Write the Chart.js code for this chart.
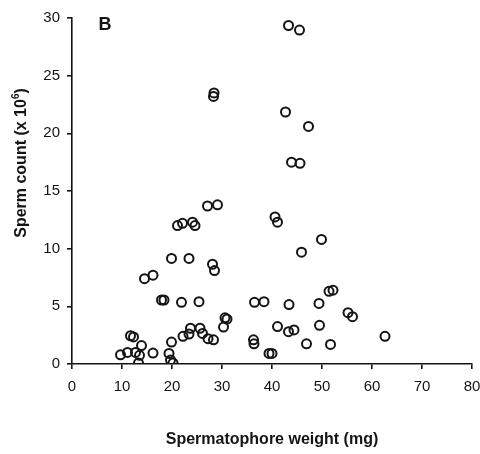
<!DOCTYPE html>
<html>
<head>
<meta charset="utf-8">
<script src="https://cdn.jsdelivr.net/npm/chart.js@4.4.1/dist/chart.umd.min.js"></script>
<style>
  html, body { margin: 0; padding: 0; background: #fff; }
</style>
</head>
<body>
<canvas id="chart" width="480" height="454"></canvas>
<script>
// values
const weightMg = [
  9.7, 11.1, 11.7, 12.3, 12.7, 13.3, 13.5, 13.9, 14.5, 16.2,
  16.2, 17.9, 18.4, 19.4, 19.7, 19.9, 19.9, 20.2, 21.1, 21.9,
  22.1, 22.2, 23.4, 23.4, 23.7, 24.1, 24.6, 25.4, 25.6, 26.1,
  27.1, 27.2, 28.1, 28.3, 28.3, 28.4, 28.5, 29.1, 30.3, 30.6,
  31.0, 36.3, 36.4, 36.5, 38.4, 39.4, 40.0, 40.6, 41.1, 41.1,
  42.7, 43.3, 43.3, 43.4, 43.9, 44.4, 45.5, 45.6, 45.9, 46.9,
  47.3, 49.4, 49.5, 49.9, 51.4, 51.7, 52.2, 55.2, 56.1, 62.6
];
const spermCount = [
  0.8, 1.0, 2.45, 2.35, 1.0, 0.08, 0.75, 1.6, 7.4, 7.7,
  0.95, 5.55, 5.55, 0.92, 0.35, 1.9, 9.15, 0.08, 12.0, 5.35,
  12.2, 2.4, 9.15, 2.6, 3.1, 12.3, 12.0, 5.4, 3.1, 2.65,
  13.7, 2.2, 8.65, 23.2, 2.1, 23.5, 8.1, 13.8, 3.2, 4.0,
  3.9, 2.1, 1.75, 5.35, 5.4, 0.92, 0.92, 12.75, 12.3, 3.25,
  21.85, 29.35, 2.8, 5.15, 17.5, 2.95, 28.95, 17.4, 9.7, 1.75,
  20.6, 5.25, 3.35, 10.8, 6.3, 1.7, 6.4, 4.45, 4.1, 2.4
];
const xTicks = [0, 10, 20, 30, 40, 50, 60, 70, 80];
const yTicks = [0, 5, 10, 15, 20, 25, 30];
const panelLabel = 'B';
const xTitle = 'Spermatophore weight (mg)';
const yTitleParts = ['Sperm count (x 10', '6', ')'];

const FONT = '"Liberation Sans", Arial, Helvetica, sans-serif';
const INK = '#141414';

// panel letter and the y title (it needs a superscript, so drawn by hand)
const annotate = {
  id: 'annotate',
  afterDraw(chart) {
    const { ctx, scales } = chart;
    ctx.save();
    ctx.fillStyle = INK;
    ctx.textBaseline = 'middle';
    ctx.textAlign = 'center';
    ctx.font = 'bold 18px ' + FONT;
    ctx.fillText(panelLabel, scales.x.getPixelForValue(6.6), scales.y.getPixelForValue(29.4));

    ctx.translate(22, 163);
    ctx.rotate(-Math.PI / 2);
    const big = 'bold 16px ' + FONT, small = 'bold 10px ' + FONT;
    ctx.font = big;
    const w0 = ctx.measureText(yTitleParts[0]).width;
    const w2 = ctx.measureText(yTitleParts[2]).width;
    ctx.font = small;
    const w1 = ctx.measureText(yTitleParts[1]).width;
    let x = -(w0 + w1 + w2) / 2;
    ctx.textAlign = 'left';
    ctx.font = big;
    ctx.fillText(yTitleParts[0], x, 0);
    x += w0;
    ctx.font = small;
    ctx.fillText(yTitleParts[1], x, -6);
    x += w1;
    ctx.font = big;
    ctx.fillText(yTitleParts[2], x, 0);
    ctx.restore();
  }
};

const axisCommon = {
  grid: { display: true, drawOnChartArea: false, drawTicks: true, tickLength: 5, color: INK, lineWidth: 1.6 },
  border: { display: true, color: INK, width: 1.6 },
  ticks: { color: INK, font: { family: FONT, size: 15 } }
};

new Chart(document.getElementById('chart'), {
  type: 'scatter',
  data: {
    datasets: [{
      data: weightMg.map((w, i) => ({ x: w, y: spermCount[i] })),
      pointStyle: 'circle',
      pointRadius: 4.5,
      pointHoverRadius: 4.5,
      borderWidth: 2,
      borderColor: INK,
      backgroundColor: 'rgba(255,255,255,0)'
    }]
  },
  options: {
    responsive: false,
    animation: false,
    events: [],
    layout: { padding: { top: 18, right: 8, bottom: 0, left: 0 } },
    plugins: { legend: { display: false }, tooltip: { enabled: false } },
    scales: {
      x: {
        ...axisCommon,
        type: 'linear',
        min: 0, max: 80,
        afterBuildTicks: s => { s.ticks = xTicks.map(v => ({ value: v })); },
        afterFit: s => { s.height = 90; s.paddingLeft = 0; s.paddingRight = 0; },
        ticks: { ...axisCommon.ticks, padding: 9 },
        title: {
          display: true, text: xTitle, color: INK,
          font: { family: FONT, size: 16, weight: 'bold' },
          padding: { top: 0, bottom: 5 }
        }
      },
      y: {
        ...axisCommon,
        type: 'linear',
        min: 0, max: 30,
        afterBuildTicks: s => { s.ticks = yTicks.map(v => ({ value: v })); },
        afterFit: s => { s.width = 72; s.paddingTop = 0; s.paddingBottom = 0; },
        ticks: { ...axisCommon.ticks, padding: 7 }
      }
    }
  },
  plugins: [annotate]
});
</script>
</body>
</html>
